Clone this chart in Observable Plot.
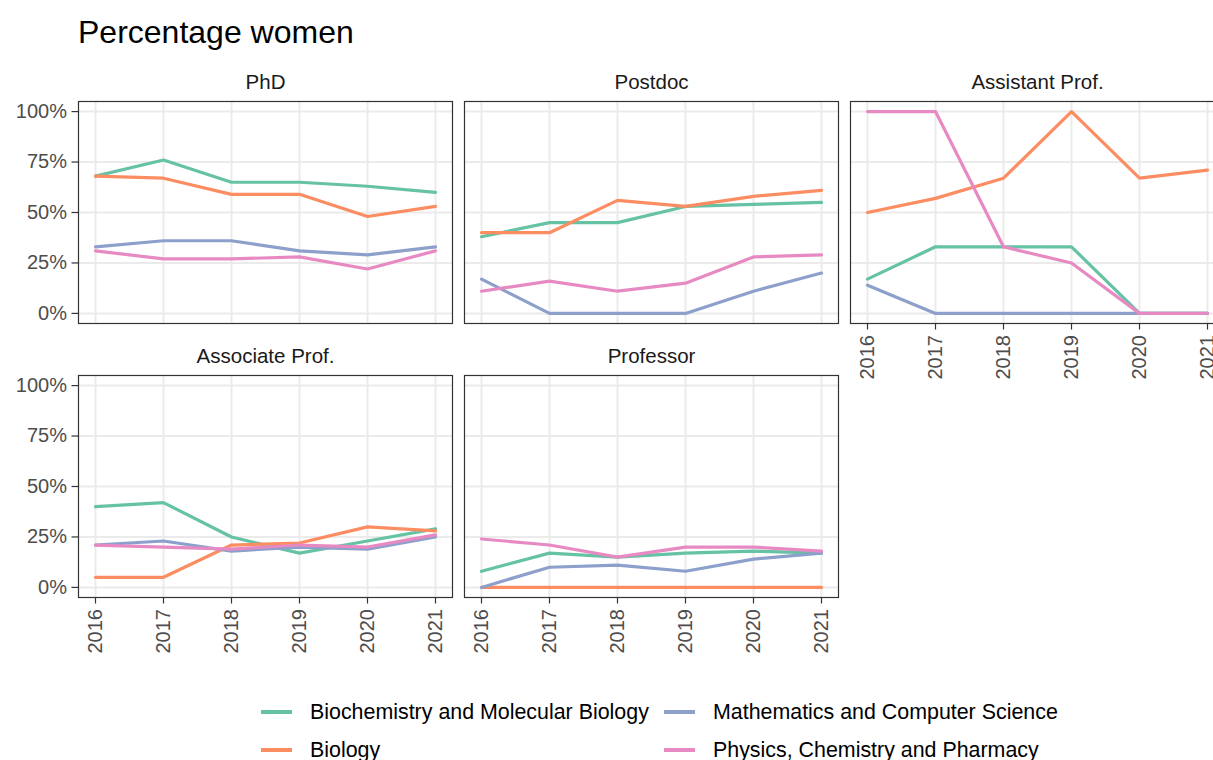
<!DOCTYPE html>
<html>
<head>
<meta charset="utf-8">
<script src="https://cdn.jsdelivr.net/npm/d3@7"></script>
<script src="https://cdn.jsdelivr.net/npm/@observablehq/plot@0.6"></script>
<style>
  html, body { margin: 0; padding: 0; background: #fff; overflow: hidden; width: 1213px; height: 760px; }
  body { font-family: "Liberation Sans", Arial, Helvetica, sans-serif; position: relative; }
  #title { position: absolute; left: 78px; top: 13px; font-size: 32px; color: #000; line-height: 38px; white-space: nowrap; }
  #chart { position: absolute; left: 0; top: 60px; width: 1224px; }
  #chart svg { max-width: none !important; }
  .leg { position: absolute; display: flex; align-items: center; font-size: 21.4px; color: #000; white-space: nowrap; height: 30px; }
  .leg .sw { width: 31px; height: 4px; margin-right: 18px; }
</style>
</head>
<body>
<div id="title">Percentage women</div>
<div id="chart"></div>
<div id="legend"></div>
<script>
const years = [2016, 2017, 2018, 2019, 2020, 2021];
const positions = ["PhD", "Postdoc", "Assistant Prof.", "Associate Prof.", "Professor"];
const fields = [
  "Biochemistry and Molecular Biology",
  "Biology",
  "Mathematics and Computer Science",
  "Physics, Chemistry and Pharmacy"
];
const colors = ["#66c2a5", "#fc8d62", "#8da0cb", "#e78ac3"];
const yTicks = [0, 0.25, 0.5, 0.75, 1];

// percent women per position (rows: PhD, Postdoc, Assistant, Associate, Professor), per year
const biochemistry = [
  [68, 76, 65, 65, 63, 60],
  [38, 45, 45, 53, 54, 55],
  [17, 33, 33, 33, 0, 0],
  [40, 42, 25, 17, 23, 29],
  [8, 17, 15, 17, 18, 17]
];
const biology = [
  [68, 67, 59, 59, 48, 53],
  [40, 40, 56, 53, 58, 61],
  [50, 57, 67, 100, 67, 71],
  [5, 5, 21, 22, 30, 28],
  [0, 0, 0, 0, 0, 0]
];
const mathematics = [
  [33, 36, 36, 31, 29, 33],
  [17, 0, 0, 0, 11, 20],
  [14, 0, 0, 0, 0, 0],
  [21, 23, 18, 20, 19, 25],
  [0, 10, 11, 8, 14, 17]
];
const physics = [
  [31, 27, 27, 28, 22, 31],
  [11, 16, 11, 15, 28, 29],
  [100, 100, 33, 25, 0, 0],
  [21, 20, 19, 21, 20, 26],
  [24, 21, 15, 20, 20, 18]
];

const seriesByField = [biochemistry, biology, mathematics, physics];
const rows = [];
fields.forEach((f, fi) => {
  positions.forEach((p, pi) => {
    years.forEach((yr, yi) => {
      rows.push({field: f, position: p, col: pi % 3, row: Math.floor(pi / 3), year: yr, value: seriesByField[fi][pi][yi] / 100});
    });
  });
});
const strips = positions.map((p, pi) => ({position: p, col: pi % 3, row: Math.floor(pi / 3)}));

const fontFamily = '"Liberation Sans", Arial, Helvetica, sans-serif';

const chart = Plot.plot({
  width: 1224,
  height: 610,
  marginLeft: 78,
  marginRight: 0,
  marginTop: 41,
  marginBottom: 73,
  style: {fontFamily, fontSize: "20px", background: "#fff", overflow: "visible", maxWidth: "none"},
  fx: {domain: [0, 1, 2], axis: null, paddingInner: 12 / 386, paddingOuter: 0, round: false},
  fy: {domain: [0, 1], axis: null, paddingInner: 52 / 274, paddingOuter: 0, round: false},
  x: {domain: [2015.75, 2021.25]},
  y: {domain: [-0.05, 1.05]},
  color: {domain: fields, range: colors},
  marks: [
    Plot.gridY(yTicks, {stroke: "#ebebeb", strokeOpacity: 1, strokeWidth: 2}),
    Plot.gridX(years, {stroke: "#ebebeb", strokeOpacity: 1, strokeWidth: 2}),
    Plot.lineY(rows, {fx: "col", fy: "row", x: "year", y: "value", z: "field", stroke: "field", strokeWidth: 3.2}),
    Plot.frame({stroke: "#333333", strokeWidth: 1.2}),
    Plot.text(strips, {fx: "col", fy: "row", text: "position", frameAnchor: "top", lineAnchor: "middle", dy: -19, fontSize: 20.5, fill: "#1a1a1a"}),
    Plot.axisY({ticks: yTicks, tickFormat: d3.format(".0%"), tickSize: 6.5, tickPadding: 5, strokeWidth: 1.2, stroke: "#333333", fill: "#4d4d4d", fontSize: 20, label: null}),
    Plot.axisX({ticks: years, tickFormat: d => String(d), tickRotate: -90, tickSize: 6.5, tickPadding: 5, strokeWidth: 1.2, stroke: "#333333", fill: "#4d4d4d", fontSize: 20, label: null})
  ]
});
document.getElementById("chart").appendChild(chart);

// legend (two columns, two rows)
const legendPos = [
  {left: 261, top: 697},
  {left: 261, top: 735},
  {left: 664, top: 697},
  {left: 664, top: 735}
];
const legend = document.getElementById("legend");
fields.forEach((f, i) => {
  const item = document.createElement("div");
  item.className = "leg";
  item.style.left = legendPos[i].left + "px";
  item.style.top = legendPos[i].top + "px";
  const sw = document.createElement("span");
  sw.className = "sw";
  sw.style.background = colors[i];
  const label = document.createElement("span");
  label.textContent = f;
  item.appendChild(sw);
  item.appendChild(label);
  legend.appendChild(item);
});
</script>
</body>
</html>
